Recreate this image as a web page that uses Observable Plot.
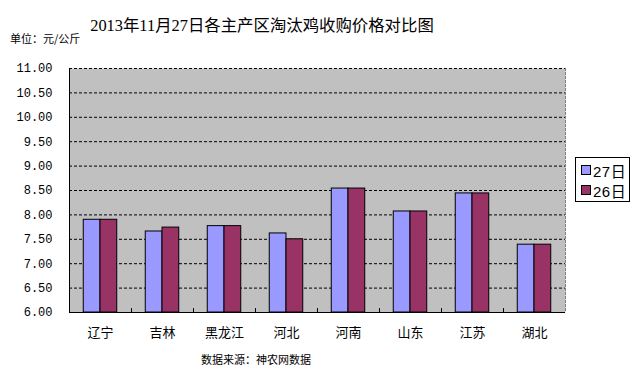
<!DOCTYPE html>
<html><head><meta charset="utf-8">
<script src="https://cdn.jsdelivr.net/npm/d3@7"></script>
<script src="https://cdn.jsdelivr.net/npm/@observablehq/plot@0.6"></script>
<style>
body{margin:0;background:#fff;}
#wrap{position:relative;width:633px;height:371px;overflow:hidden;font-family:"Noto Sans CJK SC",sans-serif;color:#000;}
#chart{position:absolute;left:0;top:0;}
#title{position:absolute;left:0;width:524px;top:15px;text-align:center;font-family:"Liberation Serif","Noto Sans CJK SC",serif;font-size:16.4px;line-height:22px;white-space:nowrap;}
#unit{position:absolute;left:10px;top:31px;font-size:11px;line-height:14px;white-space:nowrap;}
#caption{position:absolute;left:0;width:512px;top:352px;text-align:center;font-size:11px;line-height:14px;white-space:nowrap;}
#legend{position:absolute;left:575px;top:157px;width:55px;height:45px;box-sizing:border-box;border:1px solid #000;background:#fff;padding-top:2px;}
.row{display:flex;align-items:center;height:20px;padding-left:5px;font-family:"Liberation Sans","Noto Sans CJK SC",sans-serif;font-size:15px;letter-spacing:0.5px;}
.sw{width:8px;height:8px;border:1px solid #000;margin-right:2px;}
</style></head>
<body>
<div id="wrap">
  <div id="chart"></div>
  <div id="title"></div>
  <div id="unit"></div>
  <div id="legend"></div>
  <div id="caption"></div>
</div>
<script>
const titleText = "2013年11月27日各主产区淘汰鸡收购价格对比图";
const unitText = "单位：元/公斤";
const captionText = "数据来源：神农网数据";
const categories = ["辽宁","吉林","黑龙江","河北","河南","山东","江苏","湖北"];
const series = ["27日","26日"];
const values27 = [7.90,7.66,7.77,7.62,8.54,8.07,8.44,7.39];
const values26 = [7.90,7.74,7.77,7.50,8.54,8.07,8.44,7.39];
const yTicks = [6.0,6.5,7.0,7.5,8.0,8.5,9.0,9.5,10.0,10.5,11.0];
const colors = ["#9999FF","#993366"];

document.getElementById("title").textContent = titleText;
document.getElementById("unit").textContent = unitText;
document.getElementById("caption").textContent = captionText;
const leg = document.getElementById("legend");
series.forEach((s,k)=>{
  const r = document.createElement("div"); r.className="row";
  const sw = document.createElement("div"); sw.className="sw"; sw.style.background=colors[k];
  const t = document.createElement("span"); t.textContent = s;
  r.appendChild(sw); r.appendChild(t); leg.appendChild(r);
});

const data = categories.flatMap((c,i)=>[
  {c, i, s: series[0], v: values27[i]},
  {c, i, s: series[1], v: values26[i]}
]);
const barW = 0.27;
const tickLen = 0.08;
const yMin = yTicks[0], yMax = yTicks[yTicks.length-1];
const centers = categories.map((c,i)=>i+0.5);
const bounds = d3.range(1, categories.length);

const chart = Plot.plot({
  width: 633, height: 371,
  marginTop: 68, marginBottom: 59, marginLeft: 69, marginRight: 68,
  style: {background: "transparent", color: "#000", overflow: "visible"},
  x: {domain: [0, categories.length], axis: null},
  y: {domain: [yMin, yMax], axis: null},
  color: {domain: series, range: colors},
  marks: [
    Plot.frame({fill: "#C0C0C0", stroke: null}),
    Plot.ruleY(yTicks.slice(1), {stroke: "#000", strokeDasharray: "3,2"}),
    Plot.frame({anchor: "right", stroke: "#808080", strokeDasharray: "2,2"}),
    Plot.rectY(data, {
      x1: d => d.i + 0.5 - (d.s === series[0] ? barW : 0),
      x2: d => d.i + 0.5 + (d.s === series[1] ? barW : 0),
      y1: yMin, y2: "v", fill: "s", stroke: "#000", strokeWidth: 1
    }),
    Plot.ruleX(bounds, {y1: yMin, y2: yMin + tickLen, stroke: "#000"}),
    Plot.ruleY([yMin], {stroke: "#000"}),
    Plot.frame({anchor: "left", stroke: "#000"}),
    Plot.axisX(centers, {tickSize: 0, tickPadding: 15, label: null, tickFormat: d => categories[Math.floor(d)], fontSize: 13, fontFamily: "Noto Sans CJK SC"}),
    Plot.axisY(yTicks, {tickSize: 0, tickPadding: 17, label: null, tickFormat: d3.format(".2f"), fontSize: 12, fontFamily: "Liberation Mono"})
  ]
});
document.getElementById("chart").appendChild(chart);
</script>
</body></html>
